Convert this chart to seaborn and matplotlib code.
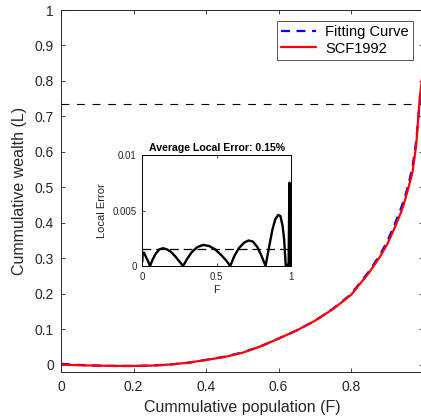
import numpy as np
import pandas as pd
import matplotlib
matplotlib.use('Agg')
import matplotlib.pyplot as plt
import seaborn as sns

# Lorenz curve (SCF1992) and fitted curve
pop = [0.00, 0.05, 0.10, 0.15, 0.20, 0.25, 0.30, 0.35, 0.40, 0.45,
       0.50, 0.55, 0.60, 0.65, 0.70, 0.75, 0.80, 0.85, 0.88, 0.90,
       0.92, 0.94, 0.95, 0.96, 0.97, 0.98, 0.985, 0.99, 0.995, 1.00]
wealth_scf = [0.001, -0.001, -0.002, -0.003, -0.003, -0.002, 0.001, 0.006, 0.014, 0.022,
              0.034, 0.052, 0.074, 0.097, 0.124, 0.157, 0.197, 0.260, 0.305, 0.340,
              0.385, 0.435, 0.468, 0.505, 0.545, 0.620, 0.690, 0.755, 0.800, 0.850]
wealth_fit = [0.003, 0.000, -0.002, -0.003, -0.003, -0.002, 0.001, 0.006, 0.014, 0.023,
              0.035, 0.052, 0.074, 0.097, 0.124, 0.158, 0.199, 0.264, 0.310, 0.348,
              0.395, 0.447, 0.478, 0.515, 0.560, 0.632, 0.690, 0.738, 0.770, 0.800]
ref_level = 0.735

# local error of the fit
err_pop = [0.000, 0.003, 0.012, 0.025, 0.040, 0.052, 0.070, 0.090, 0.115, 0.140,
           0.165, 0.190, 0.220, 0.250, 0.275, 0.300, 0.330, 0.370, 0.410, 0.450,
           0.490, 0.530, 0.565, 0.592, 0.620, 0.650, 0.685, 0.715, 0.745, 0.775,
           0.800, 0.830, 0.855, 0.875, 0.895, 0.915, 0.930, 0.945, 0.955, 0.966,
           0.976, 0.985, 0.991, 0.994, 0.998, 1.000]
local_err = [0.0004, 0.0012, 0.0012, 0.0008, 0.0004, 0.0000, 0.0006, 0.0011, 0.0015, 0.0016,
             0.0015, 0.0013, 0.0009, 0.0004, 0.0000, 0.0006, 0.0012, 0.0017, 0.0019, 0.0018,
             0.0015, 0.0010, 0.0005, 0.0000, 0.0009, 0.0016, 0.0021, 0.0023, 0.0022, 0.0017,
             0.0010, 0.0000, 0.0018, 0.0032, 0.0042, 0.0046, 0.0045, 0.0036, 0.0024, 0.0000,
             0.0001, 0.0000, 0.0075, 0.0073, 0.0000, 0.0000]
avg_err = 0.0015

sns.set_theme(style="ticks")
plt.rcParams['font.family'] = ['Liberation Sans', 'DejaVu Sans']
gray = '#262626'
plt.rcParams['axes.edgecolor'] = gray
plt.rcParams['xtick.color'] = gray
plt.rcParams['ytick.color'] = gray
plt.rcParams['axes.labelcolor'] = gray

df = pd.DataFrame({'F': pop, 'fit': wealth_fit, 'scf': wealth_scf})
df_err = pd.DataFrame({'F': err_pop, 'err': local_err})

fig = plt.figure(figsize=(4.21, 4.19), dpi=100)
ax = fig.add_axes([61 / 421, 1 - 372 / 419, 362.5 / 421, 362 / 419])

ax.axhline(ref_level, color='black', lw=0.8, ls=(0, (7, 7)))
sns.lineplot(data=df, x='F', y='fit', ax=ax, color='#0000ff', lw=1.6, label='Fitting Curve')
ax.lines[-1].set_dashes((4, 3))
sns.lineplot(data=df, x='F', y='scf', ax=ax, color='#ff0000', lw=1.6, label='SCF1992')

ax.set_xlim(0, 1)
ax.set_ylim(-0.02, 1)
ax.set_xticks(np.arange(0, 1.01, 0.2))
# the "1" label falls outside the cropped picture
ax.set_xticklabels(['0', '0.2', '0.4', '0.6', '0.8', ''])
ax.set_yticks(np.arange(0, 1.01, 0.1))
ax.set_yticklabels(['0', '0.1', '0.2', '0.3', '0.4', '0.5', '0.6', '0.7', '0.8', '0.9', '1'])
ax.tick_params(direction='in', length=3, width=0.6, labelsize=10, top=True, right=True)
ax.tick_params(axis='y', pad=5)
ax.tick_params(axis='x', pad=6)
for s in ax.spines.values():
    s.set_linewidth(0.7)
ax.set_xlabel('Cummulative population (F)', fontsize=11.5)
ax.set_ylabel('Cummulative wealth (L)', fontsize=11.5)
ax.xaxis.set_label_coords(0.5, -0.077)
ax.yaxis.set_label_coords(-0.094, 0.5)

leg = ax.legend(loc='upper right', bbox_to_anchor=(0.971, 0.9696), borderaxespad=0,
                fontsize=10.5, frameon=True, fancybox=False, handlelength=2.4,
                handletextpad=0.6, borderpad=0.3, labelspacing=0.15)
leg.get_frame().set_edgecolor(gray)
leg.get_frame().set_linewidth(0.7)
for t in leg.get_texts():
    t.set_color('black')

# inset with local error
ins = fig.add_axes([142.3 / 421, 1 - 266 / 419, 148.5 / 421, 111 / 419])
ins.axhline(avg_err, color='black', lw=0.9, ls=(0, (7, 4)))
sns.lineplot(data=df_err, x='F', y='err', ax=ins, color='black', lw=1.7, legend=False)
ins.set_xlim(0, 1)
ins.set_ylim(0, 0.01)
ins.set_xticks([0, 0.5, 1])
ins.set_xticklabels(['0', '0.5', '1'])
ins.set_yticks([0, 0.005, 0.01])
ins.set_yticklabels(['0', '0.005', '0.01'])
ins.tick_params(direction='in', length=2, width=0.6, labelsize=7, top=True, right=True, pad=4)
for s in ins.spines.values():
    s.set_linewidth(0.7)
    s.set_color('black')
ins.set_xlabel('F', fontsize=8)
ins.set_ylabel('Local Error', fontsize=8)
ins.xaxis.set_label_coords(0.5, -0.17)
ins.yaxis.set_label_coords(-0.235, 0.5)
ins.set_title('Average Local Error: 0.15%', fontsize=7.6, fontweight='bold', color='black', pad=3)

fig.savefig('out.png', dpi=100)
